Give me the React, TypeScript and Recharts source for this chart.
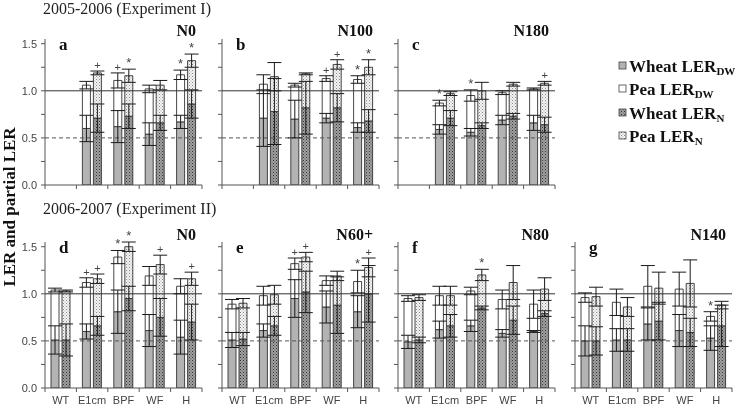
import React from "react";
import { BarChart, Bar, XAxis, YAxis, ReferenceLine, ErrorBar, LabelList } from "recharts";

// ---- data ----------------------------------------------------------------
const categories = ["WT", "E1cm", "BPF", "WF", "H"];
const panels = ["a", "b", "c", "d", "e", "f", "g"];
const treatments = ["N0", "N100", "N180", "N0", "N60+", "N80", "N140"];
const experiments = ["2005-2006 (Experiment I)", "2006-2007 (Experiment II)"];
const yTicks = [0, 0.25, 0.5, 0.75, 1, 1.25, 1.5];

type Series = Record<string, (number | null)[]>;
type Marks = Record<string, string[]>;

// partial LER of wheat / pea, on dry weight (DW) and on nitrogen (N)
const wheatDW: Series = {
  a: [null, 0.6, 0.62, 0.54, 0.67],
  b: [null, 0.71, 0.7, 0.71, 0.61],
  c: [null, 0.59, 0.56, 0.69, 0.66],
  d: [0.51, 0.6, 0.81, 0.61, 0.54],
  e: [0.51, 0.61, 0.95, 0.86, 0.81],
  f: [0.49, 0.62, 0.66, 0.58, 0.6],
  g: [0.5, 0.51, 0.68, 0.61, 0.53],
};
const peaDW: Series = {
  a: [null, 0.46, 0.49, 0.48, 0.5],
  b: [null, 0.36, 0.36, 0.42, 0.51],
  c: [null, 0.28, 0.39, 0.29, 0.36],
  d: [0.53, 0.52, 0.58, 0.58, 0.54],
  e: [0.38, 0.37, 0.37, 0.28, 0.32],
  f: [0.46, 0.36, 0.37, 0.36, 0.29],
  g: [0.46, 0.4, 0.4, 0.44, 0.23],
};
const wheatN: Series = {
  a: [null, 0.71, 0.73, 0.66, 0.86],
  b: [null, 0.78, 0.82, 0.82, 0.68],
  c: [null, 0.71, 0.63, 0.73, 0.64],
  d: [0.51, 0.66, 0.95, 0.75, 0.7],
  e: [0.52, 0.66, 1.02, 0.88, 1.0],
  f: [0.51, 0.66, 0.85, 0.72, 0.79],
  g: [0.5, 0.51, 0.71, 0.59, 0.66],
};
const peaN: Series = {
  a: [null, 0.48, 0.43, 0.4, 0.46],
  b: [null, 0.37, 0.36, 0.46, 0.57],
  c: [null, 0.26, 0.37, 0.34, 0.44],
  d: [0.52, 0.5, 0.55, 0.56, 0.46],
  e: [0.38, 0.33, 0.37, 0.31, 0.28],
  f: [0.45, 0.32, 0.35, 0.4, 0.26],
  g: [0.47, 0.35, 0.35, 0.52, 0.22],
};

// standard errors
const wheatDWErr: Series = {
  a: [null, 0.14, 0.17, 0.12, 0.07],
  b: [null, 0.3, 0.2, 0.05, 0.05],
  c: [null, 0.05, 0.04, 0.05, 0.08],
  d: [0.15, 0.08, 0.23, 0.17, 0.18],
  e: [0.08, 0.07, 0.2, 0.17, 0.17],
  f: [0.07, 0.09, 0.06, 0.04, 0.01],
  g: [0.16, 0.12, 0.17, 0.17, 0.13],
};
const peaDWErr: Series = {
  a: [null, 0.04, 0.08, 0.04, 0.05],
  b: [null, 0.1, 0.02, 0.03, 0.04],
  c: [null, 0.03, 0.06, 0.02, 0.01],
  d: [0.02, 0.05, 0.07, 0.1, 0.08],
  e: [0.05, 0.1, 0.06, 0.05, 0.12],
  f: [0.03, 0.1, 0.04, 0.1, 0.15],
  g: [0.05, 0.14, 0.22, 0.18, 0.05],
};
const wheatNErr: Series = {
  a: [null, 0.15, 0.13, 0.08, 0.15],
  b: [null, 0.35, 0.28, 0.15, 0.12],
  c: [null, 0.08, 0.03, 0.03, 0.08],
  d: [0.17, 0.1, 0.13, 0.2, 0.19],
  e: [0.07, 0.1, 0.22, 0.3, 0.3],
  f: [0.03, 0.12, 0.02, 0.15, 0.03],
  g: [0.15, 0.12, 0.2, 0.15, 0.22],
};
const peaNErr: Series = {
  a: [null, 0.02, 0.07, 0.05, 0.07],
  b: [null, 0.15, 0.01, 0.05, 0.08],
  c: [null, 0.02, 0.09, 0.02, 0.02],
  d: [0.01, 0.05, 0.05, 0.1, 0.07],
  e: [0.05, 0.1, 0.05, 0.05, 0.1],
  f: [0.03, 0.1, 0.06, 0.18, 0.12],
  g: [0.1, 0.1, 0.17, 0.25, 0.04],
};

// significance marks above the total LER
const markDW: Marks = {
  a: ["", "", "+", "", "*"],
  b: ["", "", "", "+", "*"],
  c: ["", "*", "*", "", ""],
  d: ["", "+", "*", "", ""],
  e: ["", "", "+", "", "*"],
  f: ["", "", "", "", ""],
  g: ["", "", "", "", "*"],
};
const markN: Marks = {
  a: ["", "+", "*", "", "*"],
  b: ["", "", "", "+", "*"],
  c: ["", "", "", "", "+"],
  d: ["", "+", "*", "+", "+"],
  e: ["", "", "+", "", "+"],
  f: ["", "", "*", "", ""],
  g: ["", "", "", "", ""],
};

// ---- layout ----------------------------------------------------------------
const PLOT_W = 157;
const PLOT_H = 146;
const Y_MAX = 1.55;
const AXIS_W = 30;
const X_AXIS_H = 24;
const M_TOP = 20;
const M_RIGHT = 6;
const COL_X = [45, 222, 398, 575];
const ROW_Y = [39, 242];
const BAND = PLOT_W / categories.length;

const AXIS = "#555";
const SERIF = "'Liberation Serif', 'DejaVu Serif', serif";
const SANS = "'Liberation Sans', Arial, sans-serif";

function buildRows(p: string) {
  return categories.map((cat, i) => ({
    cat,
    wheatDW: wheatDW[p][i],
    peaDW: peaDW[p][i],
    wheatN: wheatN[p][i],
    peaN: peaN[p][i],
    wheatDWErr: wheatDWErr[p][i],
    peaDWErr: peaDWErr[p][i],
    wheatNErr: wheatNErr[p][i],
    peaNErr: peaNErr[p][i],
    // invisible segment the height of the top error bar, so marks sit above the cap
    padDW: peaDWErr[p][i],
    padN: peaNErr[p][i],
    markDW: markDW[p][i],
    markN: markN[p][i],
  }));
}

function CatTick(props: any) {
  const { x, y, payload, index, showLabel } = props;
  const half = BAND / 2;
  return (
    <g>
      <line x1={x - half} x2={x - half} y1={y} y2={y + 4} stroke={AXIS} />
      {index === categories.length - 1 && (
        <line x1={x + half} x2={x + half} y1={y} y2={y + 4} stroke={AXIS} />
      )}
      {showLabel && (
        <text x={x} y={y + 16} textAnchor="middle" fontSize={11} fill="#444" fontFamily={SANS}>
          {payload.value}
        </text>
      )}
    </g>
  );
}

function Mark(props: any) {
  const vb = props.viewBox ?? props;
  if (!props.value) return null;
  return (
    <text
      x={vb.x + vb.width / 2}
      y={vb.y - 2}
      textAnchor="middle"
      fontSize={props.value === "*" ? 13 : 11}
      fill="#444"
      fontFamily={SANS}
    >
      {props.value}
    </text>
  );
}

function Panel({ id, index }: { id: string; index: number }) {
  const row = index < 3 ? 0 : 1;
  const col = index < 3 ? index : index - 3;
  const rows = buildRows(id);
  const width = AXIS_W + PLOT_W + M_RIGHT;
  const height = M_TOP + PLOT_H + X_AXIS_H;
  const box: React.CSSProperties = {
    position: "absolute",
    left: COL_X[col] - AXIS_W,
    top: ROW_Y[row] - M_TOP,
    width,
    height,
  };
  const err = { width: 7, stroke: "#1a1a1a", strokeWidth: 1 };
  const outline = { stroke: "#333", strokeWidth: 0.9 };

  return (
    <>
      <div style={box}>
        <BarChart
          width={width}
          height={height}
          data={rows}
          margin={{ top: M_TOP, right: M_RIGHT, bottom: 0, left: 0 }}
          barSize={8}
          barGap={3}
        >
          <XAxis
            dataKey="cat"
            height={X_AXIS_H}
            interval={0}
            tickLine={false}
            tickSize={0}
            tickMargin={0}
            axisLine={{ stroke: AXIS }}
            tick={(p: any) => <CatTick {...p} showLabel={row === 1} />}
          />
          <YAxis
            width={AXIS_W}
            domain={[0, Y_MAX]}
            allowDataOverflow
            ticks={yTicks}
            interval={0}
            tickSize={4}
            tickMargin={4}
            axisLine={{ stroke: AXIS }}
            tickLine={{ stroke: AXIS }}
            tick={{ fontSize: 11, fill: "#444", fontFamily: SANS }}
            tickFormatter={(v: number) => (col === 0 && v % 0.5 === 0 ? v.toFixed(1) : "")}
          />
          <ReferenceLine y={0.5} stroke="#555" strokeDasharray="4 3" />
          <Bar dataKey="wheatDW" stackId="dw" fill="#b3b3b3" {...outline} isAnimationActive={false} />
          <Bar dataKey="peaDW" stackId="dw" fill="#fff" {...outline} isAnimationActive={false} />
          <Bar dataKey="wheatN" stackId="n" fill="url(#wheatNFill)" {...outline} isAnimationActive={false} />
          <Bar dataKey="peaN" stackId="n" fill="url(#peaNFill)" {...outline} isAnimationActive={false} />
        </BarChart>
      </div>
      {/* the 1.0 line, error bars and marks drawn on top of the bars */}
      <div style={box}>
        <BarChart
          width={width}
          height={height}
          data={rows}
          margin={{ top: M_TOP, right: M_RIGHT, bottom: X_AXIS_H, left: AXIS_W }}
          barSize={8}
          barGap={3}
        >
          <XAxis dataKey="cat" hide />
          <YAxis hide domain={[0, Y_MAX]} allowDataOverflow />
          <ReferenceLine y={1} stroke="#333" strokeWidth={1} />
          <Bar dataKey="wheatDW" stackId="dw" fill="none" isAnimationActive={false}>
            <ErrorBar dataKey="wheatDWErr" {...err} />
          </Bar>
          <Bar dataKey="peaDW" stackId="dw" fill="none" isAnimationActive={false}>
            <ErrorBar dataKey="peaDWErr" {...err} />
          </Bar>
          <Bar dataKey="padDW" stackId="dw" fill="none" isAnimationActive={false}>
            <LabelList dataKey="markDW" content={Mark} />
          </Bar>
          <Bar dataKey="wheatN" stackId="n" fill="none" isAnimationActive={false}>
            <ErrorBar dataKey="wheatNErr" {...err} />
          </Bar>
          <Bar dataKey="peaN" stackId="n" fill="none" isAnimationActive={false}>
            <ErrorBar dataKey="peaNErr" {...err} />
          </Bar>
          <Bar dataKey="padN" stackId="n" fill="none" isAnimationActive={false}>
            <LabelList dataKey="markN" content={Mark} />
          </Bar>
        </BarChart>
      </div>
    </>
  );
}

function LegendRow({ y, fill, name, sub }: { y: number; fill: string; name: string; sub: string }) {
  return (
    <g>
      <rect x={619} y={y - 10} width={7} height={7} fill={fill} stroke="#444" strokeWidth={0.8} />
      <text x={629} y={y} fontFamily={SERIF} fontWeight="bold" fontSize={17} fill="#111">
        {name}
        <tspan fontSize={11} dy={3}>
          {sub}
        </tspan>
      </text>
    </g>
  );
}

export default function App() {
  return (
    <div
      style={{
        position: "absolute",
        left: 0,
        top: 0,
        width: 739,
        height: 411,
        background: "#fff",
        overflow: "hidden",
        filter: "grayscale(1)",
      }}
    >
      <svg width={0} height={0} style={{ position: "absolute" }}>
        <defs>
          <pattern id="wheatNFill" width={3} height={3} patternUnits="userSpaceOnUse">
            <rect width={3} height={3} fill="#a0a0a0" />
            <rect x={0} y={0} width={1} height={1} fill="#333" />
            <rect x={1.5} y={1.5} width={1} height={1} fill="#555" />
          </pattern>
          <pattern id="peaNFill" width={3} height={3} patternUnits="userSpaceOnUse">
            <rect width={3} height={3} fill="#f4f4f4" />
            <rect x={0} y={0} width={1} height={1} fill="#888" />
            <rect x={1.5} y={1.5} width={1} height={1} fill="#aaa" />
          </pattern>
        </defs>
      </svg>

      {panels.map((p, i) => (
        <Panel key={p} id={p} index={i} />
      ))}

      <svg width={739} height={411} style={{ position: "absolute", left: 0, top: 0, pointerEvents: "none" }}>
        <text x={43} y={14} fontFamily={SERIF} fontSize={16} fill="#222">
          {experiments[0]}
        </text>
        <text x={43} y={214} fontFamily={SERIF} fontSize={16} fill="#222">
          {experiments[1]}
        </text>
        {panels.map((p, i) => {
          const row = i < 3 ? 0 : 1;
          const col = i < 3 ? i : i - 3;
          return (
            <g key={p}>
              <text x={COL_X[col] + 14} y={ROW_Y[row] + 11} fontFamily={SERIF} fontWeight="bold" fontSize={17} fill="#111">
                {p}
              </text>
              <text
                x={COL_X[col] + PLOT_W - 6}
                y={ROW_Y[row] - (row === 0 ? 3 : 2)}
                textAnchor="end"
                fontFamily={SERIF}
                fontWeight="bold"
                fontSize={16}
                fill="#111"
              >
                {treatments[i]}
              </text>
            </g>
          );
        })}
        <text
          transform="translate(15 207) rotate(-90)"
          textAnchor="middle"
          fontFamily={SERIF}
          fontWeight="bold"
          fontSize={17}
          fill="#111"
        >
          LER and partial LER
        </text>
        <LegendRow y={72} fill="#b3b3b3" name="Wheat LER" sub="DW" />
        <LegendRow y={95} fill="#fff" name="Pea LER" sub="DW" />
        <LegendRow y={119} fill="url(#wheatNFill)" name="Wheat LER" sub="N" />
        <LegendRow y={142} fill="url(#peaNFill)" name="Pea LER" sub="N" />
      </svg>
    </div>
  );
}
